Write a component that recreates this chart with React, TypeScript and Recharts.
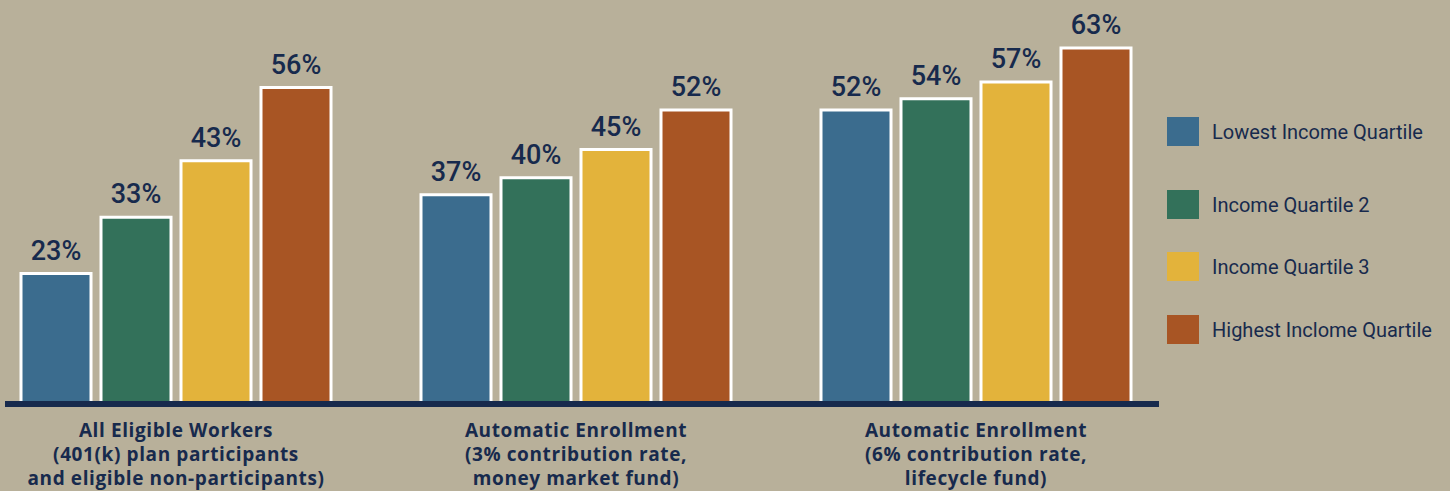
import React from "react"
import { BarChart, Bar, XAxis, YAxis, LabelList } from "recharts"

// groups along the x axis
const categories = ["All Eligible Workers", "Automatic Enrollment 3%", "Automatic Enrollment 6%"]
const categoryLines = [
    ["All Eligible Workers", "(401(k) plan participants", "and eligible non-participants)"],
    ["Automatic Enrollment", "(3% contribution rate,", "money market fund)"],
    ["Automatic Enrollment", "(6% contribution rate,", "lifecycle fund)"],
]

// percent values per income quartile
const lowest = [23, 37, 52]
const quartile2 = [33, 40, 54]
const quartile3 = [43, 45, 57]
const highest = [56, 52, 63]

const seriesNames = [
    "Lowest Income Quartile",
    "Income Quartile 2",
    "Income Quartile 3",
    "Highest Inclome Quartile",
]

const data = categories.map((name, i) => ({
    name,
    q1: lowest[i],
    q2: quartile2[i],
    q3: quartile3[i],
    q4: highest[i],
}))

const BG = "#b8b09a"
const NAVY = "#172a4d"
const COLORS = ["#3b6c8e", "#33715a", "#e3b33b", "#a85524"]
const KEYS = ["q1", "q2", "q3", "q4"]

const legendTops = [117, 190, 252, 315]

function CategoryTick(props: any) {
    const { x, y, payload } = props
    const lines = categoryLines[payload.index] ?? []
    return (
        <text
            x={x}
            y={y}
            textAnchor="middle"
            fill={NAVY}
            fontFamily="'Open Sans', sans-serif"
            fontWeight={700}
            fontSize={19}
            letterSpacing={0.6}
        >
            {lines.map((line, i) => (
                <tspan key={i} x={x} dy={i === 0 ? 34 : 24}>
                    {line}
                </tspan>
            ))}
        </text>
    )
}

function QuartileLegend() {
    return (
        <div style={{ position: "absolute", left: 1167, top: 0, width: 283, height: 360 }}>
            {seriesNames.map((name, i) => (
                <div
                    key={name}
                    style={{
                        position: "absolute",
                        left: 0,
                        top: legendTops[i],
                        display: "flex",
                        alignItems: "center",
                        height: 29,
                    }}
                >
                    <div style={{ width: 32, height: 29, background: COLORS[i] }} />
                    <span
                        style={{
                            marginLeft: 13,
                            fontFamily: "Roboto, sans-serif",
                            fontSize: 20,
                            color: NAVY,
                            whiteSpace: "nowrap",
                        }}
                    >
                        {name}
                    </span>
                </div>
            ))}
        </div>
    )
}

export default function App() {
    return (
        <div
            style={{
                position: "absolute",
                left: 0,
                top: 0,
                width: 1450,
                height: 491,
                overflow: "hidden",
                background: BG,
            }}
        >
            <div style={{ position: "absolute", left: -24, top: 0, width: 1474, height: 491 }}>
                <BarChart
                    width={1474}
                    height={491}
                    data={data}
                    margin={{ top: 8.6, right: 274, left: 0, bottom: 0 }}
                    barSize={70}
                    barGap={10}
                >
                    <XAxis
                        dataKey="name"
                        height={87.8}
                        axisLine={false}
                        tickLine={false}
                        tickSize={0}
                        tickMargin={0}
                        interval={0}
                        tick={<CategoryTick />}
                    />
                    <YAxis hide width={0} domain={[0, 70]} />
                    {KEYS.map((k, i) => (
                        <Bar
                            key={k}
                            dataKey={k}
                            name={seriesNames[i]}
                            fill={COLORS[i]}
                            stroke="#ffffff"
                            strokeWidth={3}
                            isAnimationActive={false}
                        >
                            <LabelList
                                dataKey={k}
                                position="top"
                                offset={14}
                                formatter={(v: any) => `${v}%`}
                                fill={NAVY}
                                fontSize={27}
                                fontFamily="Roboto, sans-serif"
                                fontWeight={500}
                            />
                        </Bar>
                    ))}
                </BarChart>
                {/* baseline rule, shorter than the category bands */}
                <div
                    style={{
                        position: "absolute",
                        left: 29,
                        top: 401,
                        width: 1154,
                        height: 6,
                        background: NAVY,
                    }}
                />
            </div>
            <QuartileLegend />
        </div>
    )
}
